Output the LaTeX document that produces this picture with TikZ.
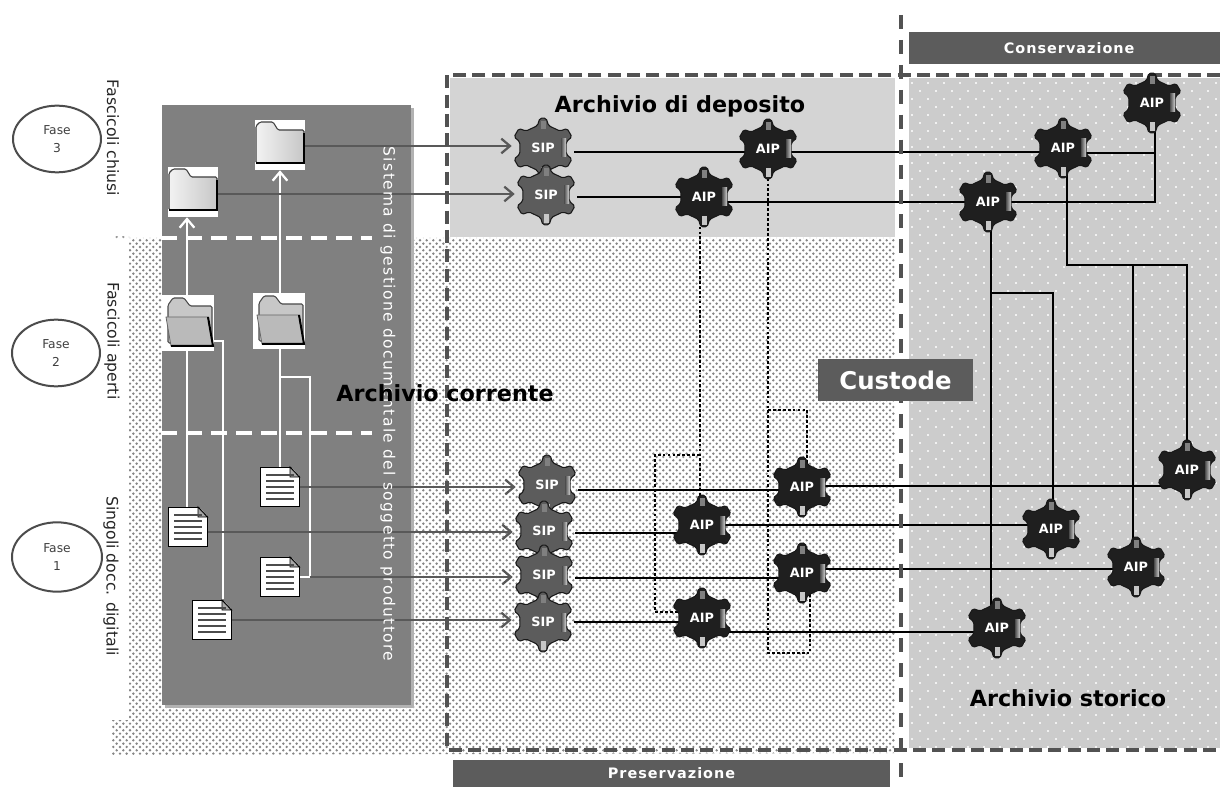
\documentclass[tikz,border=0pt]{standalone}
\usepackage{fontspec}
\setmainfont{DejaVu Sans}
\newfontfamily\spacedb[LetterSpace=7]{DejaVu Sans Bold}
\newfontfamily\spacedr[LetterSpace=9]{DejaVu Sans}
\usetikzlibrary{arrows.meta,patterns,shapes.geometric}
\pgfdeclarelayer{bg}\pgfdeclarelayer{conn}\pgfsetlayers{bg,conn,main}
\pgfdeclarepatternformonly{stipple}{\pgfqpoint{-1.5pt}{-1.5pt}}{\pgfqpoint{4.5pt}{4.5pt}}{\pgfqpoint{5pt}{5pt}}{
  \pgfpathcircle{\pgfqpoint{0pt}{0pt}}{1pt}
  \pgfpathcircle{\pgfqpoint{2.5pt}{2.5pt}}{1pt}
  \pgfusepath{fill}}
\pgfdeclarepatternformonly{whitedots}{\pgfqpoint{-1pt}{-1pt}}{\pgfqpoint{11pt}{11pt}}{\pgfqpoint{12pt}{12pt}}{
  \pgfpathcircle{\pgfqpoint{0pt}{0pt}}{.8pt}
  \pgfpathcircle{\pgfqpoint{6pt}{6pt}}{.8pt}
  \pgfusepath{fill}}
\tikzset{
  x=.75pt,y=-.75pt,
  blk/.style={draw=black,line width=2.2pt},
  dots/.style={draw=black,line width=2.15pt,dash pattern=on 2.1pt off 1.6pt},
  gray arrow/.style={draw=black!65,line width=2.2pt,-{Straight Barb[length=6.5pt,width=11pt,line width=1.7pt]}},
  gray line/.style={draw=black!65,line width=2.2pt},
  white arrow/.style={draw=white,line width=2pt,-{Straight Barb[length=6.5pt,width=11pt,line width=1.7pt]}},
  white line/.style={draw=white,line width=2pt},
  phase line/.style={draw=white,line width=3pt,dash pattern=on 12pt off 6.75pt},
  frame dash/.style={draw=black!68,line width=3.6pt,dash pattern=on 9.8pt off 4.7pt},
  cross dash/.style={draw=black!68,line width=3.6pt,dash pattern=on 10.5pt off 8.2pt},
  gear label/.style={circle,inner sep=0pt,minimum size=46.5pt,text=white,font=\bfseries\fontsize{9.6}{10}\selectfont},
  phase/.style={ellipse,draw=black!70,line width=1.5pt,fill=white,inner sep=0pt,minimum width=66pt,minimum height=50pt,align=center,font=\fontsize{9.2}{14}\selectfont,text=black!75},
  side label/.style={rotate=-90,font=\fontsize{11.8}{12}\selectfont,text=black!85},
  big label/.style={font=\bfseries\fontsize{16.7}{18}\selectfont,text=black},
  bar label/.style={font=\spacedb\fontsize{10.8}{12}\selectfont,text=white},
  icon box/.style={fill=white,inner sep=0pt},
  doc box/.style={fill=white,draw=black,line width=1pt,inner sep=0pt,minimum width=29pt,minimum height=29.5pt},
}
\newcommand{\gearat}[5]{% name,x,y,label,fill
  \begin{scope}[shift={(#2,#3)}]
    \path[fill=#5,draw=black!90,line width=.8pt,rounded corners=1.3pt]
      (76:23) -- (84:30) -- (96:30) -- (104:23) -- (135:24) -- (141:31) -- (159:31) -- (165:24)
      -- (195:24) -- (201:31) -- (219:31) -- (225:24) -- (256:23) -- (264:30) -- (276:30) -- (284:23)
      -- (315:24) -- (321:31) -- (339:31) -- (345:24) -- (15:24) -- (21:31) -- (39:31) -- (45:24) -- cycle;
    \fill[black!50] (-2.5,-27) rectangle (2.5,-19);
    \fill[black!22] (-2.5,19) rectangle (2.5,28);
    \fill[left color=black!70,right color=black!18] (18,-9) rectangle (23,9);
  \end{scope}
  \node[gear label] (#1) at (#2,#3) {#4};
}
\newcommand{\closedfolder}[3]{%
  \node[icon box,minimum width=37.5pt,minimum height=37.5pt] (#1) at (#2,#3) {};
  \begin{scope}[shift={(#2,#3)}]
    \path[left color=black!5,right color=black!22,draw=black!75,line width=.8pt,rounded corners=1pt]
      (-24,18) -- (-24,-19) -- (-20,-23) -- (-7,-23) -- (-2,-15) -- (24,-15) -- (24,18) -- cycle;
    \draw[black,line width=1.3pt] (-24,18) -- (24,18) -- (24,-12);
  \end{scope}
}
\newcommand{\openfolder}[3]{%
  \node[icon box,minimum width=39pt,minimum height=42pt] (#1) at (#2,#3) {};
  \begin{scope}[shift={(#2,#3)}]
    \path[fill=black!22,draw=black!70,line width=.8pt,rounded corners=1pt]
      (-20,20) -- (-20,-18) -- (-15,-25) -- (-4,-25) -- (2,-17) -- (24,-17) -- (24,20) -- cycle;
    \path[fill=black!27,draw=black!60,line width=.6pt]
      (-22,-6) -- (20,-6) -- (25,23) -- (-17,23) -- cycle;
    \draw[black,line width=1.5pt] (-17,23) -- (25,23) -- (20,-6);
  \end{scope}
}
\newcommand{\docicon}[3]{%
  \node[doc box] (#1) at (#2,#3) {};
  \begin{scope}[shift={(#2,#3)}]
    \fill[black!50] (10,-21) -- (20.5,-21) -- (20.5,-10) -- cycle;
    \path[fill=black!35,draw=black,line width=.7pt] (10,-20) -- (19.5,-10) -- (10,-10) -- cycle;
    \foreach \yy in {-12,-6,0,6,12}{\draw[black!70,line width=1pt] (-14,\yy) -- (14,\yy);}
  \end{scope}
}
\begin{document}
\begin{tikzpicture}
\useasboundingbox (0,0) rectangle (1220,787);
\begin{pgfonlayer}{bg}
  \fill[white] (0,0) rectangle (1220,787);
  \fill[black!17] (450,78) rectangle (895,237);
  \path[pattern=stipple,pattern color=black!48]
    (129,238) -- (895,238) -- (895,753) -- (112,755) -- (112,720) -- (129,720) -- cycle;
  \path[pattern=stipple,pattern color=black!40] (112,237) rectangle (129,239);
  \fill[black!20] (909,78) rectangle (1220,748);
  \path[pattern=whitedots,pattern color=white] (909,78) rectangle (1220,748);
  \fill[black!30] (165,108) rectangle (414,708);
  \fill[black!50] (162,105) rectangle (411,705);
\end{pgfonlayer}

% gears
\gearat{s1}{543}{148}{SIP}{black!64}
\gearat{s2}{546}{195}{SIP}{black!64}
\gearat{s3}{547}{485}{SIP}{black!64}
\gearat{s4}{544}{531}{SIP}{black!64}
\gearat{s5}{544}{575}{SIP}{black!64}
\gearat{s6}{543}{622}{SIP}{black!64}
\gearat{a1}{768}{149}{AIP}{black!88}
\gearat{a2}{704}{197}{AIP}{black!88}
\gearat{a3}{1152}{103}{AIP}{black!88}
\gearat{a4}{1063}{148}{AIP}{black!88}
\gearat{a5}{988}{202}{AIP}{black!88}
\gearat{a6}{802}{487}{AIP}{black!88}
\gearat{a7}{702}{525}{AIP}{black!88}
\gearat{a8}{802}{573}{AIP}{black!88}
\gearat{a9}{702}{618}{AIP}{black!88}
\gearat{a10}{1187}{470}{AIP}{black!88}
\gearat{a11}{1051}{529}{AIP}{black!88}
\gearat{a12}{1136}{567}{AIP}{black!88}
\gearat{a13}{997}{628}{AIP}{black!88}

% left panel icons
\closedfolder{fc2}{280}{145}
\closedfolder{fc1}{193}{192}
\openfolder{fo1}{188}{323}
\openfolder{fo2}{279}{321}
\docicon{d2}{280}{487}
\docicon{d1}{188}{527}
\docicon{d3}{280}{577}
\docicon{d4}{212}{620}

\begin{pgfonlayer}{conn}
  % phase dividers
  \draw[phase line] (161,238) -- (372,238);
  \draw[phase line] (161,433) -- (372,433);
  % white lines inside the panel
  \draw[white arrow] (187,0 |- fo1.north) -- (187,0 |- fc1.south);
  \draw[white arrow] (280,0 |- fo2.north) -- (280,0 |- fc2.south);
  \draw[white line] (187,0 |- fo1.south) -- (187,0 |- d1.north);
  \draw[white line] (280,0 |- fo2.south) -- (280,0 |- d2.north);
  \coordinate (w1) at (223,341);
  \coordinate (w2) at (280,377);
  \coordinate (w3) at (310,377);
  \coordinate (w4) at (310,577);
  \draw[white line] (fo1.east |- w1) -- (w1) -- (w1 |- d4.north);
  \draw[white line] (w2) -- (w3) -- (w4) -- (d3.east |- w4);
  % grey input arrows
  \draw[gray arrow] (fc2.east |- 0,146) -- (s1.west |- 0,146);
  \draw[gray arrow] (fc1.east |- 0,194) -- (s2.west |- 0,194);
  \draw[gray arrow] (d2.east |- 0,487) -- (s3.west |- 0,487);
  \draw[gray arrow] (d1.east |- 0,532) -- (s4.west |- 0,532);
  \draw[gray arrow] (w4) -- (s5.west |- w4);
  \draw[gray arrow] (d4.east |- 0,620) -- (s6.west |- 0,620);
  % black links, top
  \draw[blk] (s1.east |- 0,152) -- (a1 |- 0,152);
  \draw[blk] (a1 |- 0,152) -- (a4 |- 0,152);
  \coordinate (t1) at (1155,202);
  \draw[blk] (a4 |- 0,153) -- (t1 |- 0,153);
  \draw[blk] (a3 -| t1) -- (t1) -- (a5 |- t1);
  \draw[blk] (s2.east |- 0,197) -- (a2.center);
  \draw[blk] (a2 |- 0,202) -- (a5 |- 0,202);
  % black links, bottom
  \draw[blk] (s3.east |- 0,490) -- (a6 |- 0,490);
  \draw[blk] (a6 |- 0,486) -- (a10 |- 0,486);
  \draw[blk] (s4.east |- 0,533) -- (a7 |- 0,533);
  \draw[blk] (a7.center) -- (a11 |- a7);
  \draw[blk] (s5.east |- 0,578) -- (a8 |- 0,578);
  \draw[blk] (a8 |- 0,569) -- (a12 |- 0,569);
  \draw[blk] (s6.east |- 0,622) -- (a9 |- 0,622);
  \draw[blk] (a9 |- 0,632) -- (a13 |- 0,632);
  % black trees
  \coordinate (r1) at (1067,265);
  \coordinate (r2) at (1133,265);
  \draw[blk] (r1 |- a4) -- (r1) -- (a10 |- r1) -- (a10.center);
  \draw[blk] (r2) -- (r2 |- a12);
  \coordinate (q1) at (991,293);
  \coordinate (q2) at (1053,293);
  \draw[blk] (q1 |- a5) -- (q1 |- a13);
  \draw[blk] (q1) -- (q2) -- (q2 |- a11);
  % dotted links
  \coordinate (p1) at (700,455);
  \coordinate (p2) at (655,455);
  \coordinate (p3) at (655,612);
  \draw[dots] (p1 |- a2) -- (p1 |- a7);
  \draw[dots] (p1) -- (p2) -- (p3) -- (a9 |- p3);
  \coordinate (o1) at (768,653);
  \coordinate (o2) at (810,653);
  \coordinate (o3) at (768,410);
  \coordinate (o4) at (807,410);
  \draw[dots] (a1.center) -- (o1) -- (o2) -- (o2 |- a8);
  \draw[dots] (o3) -- (o4) -- (o4 |- a6);
  % dashed frame
  \coordinate (fa) at (1220,75);
  \coordinate (fb) at (447,75);
  \coordinate (fc) at (447,750);
  \coordinate (fd) at (1220,750);
  \coordinate (va) at (901,15);
  \coordinate (vb) at (901,787);
  \draw[frame dash] (fa) -- (fb) -- (fc) -- (fd);
  \draw[cross dash] (va) -- (vb);
\end{pgfonlayer}

% ellipses and side labels
\node[phase] (f3) at (57,139) {Fase\\3};
\node[phase] (f2) at (56,353) {Fase\\2};
\node[phase,minimum width=67.5pt,minimum height=52pt] (f1) at (57,557) {Fase\\1};
\node[side label] (l3) at (113,138) {Fascicoli chiusi};
\node[side label] (l2) at (112,341) {Fascicoli aperti};
\node[side label] (l1) at (111,576) {Singoli docc. digitali};

\node[rotate=-90,text=white,font=\spacedr\fontsize{11.6}{12}\selectfont] (sys) at (388,404) {Sistema di gestione documentale del soggetto produttore};

\node[big label] (ac) at (445,393) {Archivio corrente};
\node[big label] (ad) at (680,106) {Archivio di deposito};
\node[big label] (as) at (1068,698) {Archivio storico};

\node[fill=black!64,minimum width=116pt,minimum height=31.5pt,inner sep=0pt,text=white,font=\bfseries\fontsize{18.3}{20}\selectfont] (cu) at (895.5,380) {Custode};
\node[fill=black!64,minimum width=233.5pt,minimum height=24pt,inner sep=0pt,bar label] (co) at (1064.5,48) {\hspace*{7pt}Conservazione};
\node[fill=black!64,minimum width=327.75pt,minimum height=20.5pt,inner sep=0pt,bar label] (pr) at (671.5,773.5) {Preservazione};
\end{tikzpicture}
\end{document}
